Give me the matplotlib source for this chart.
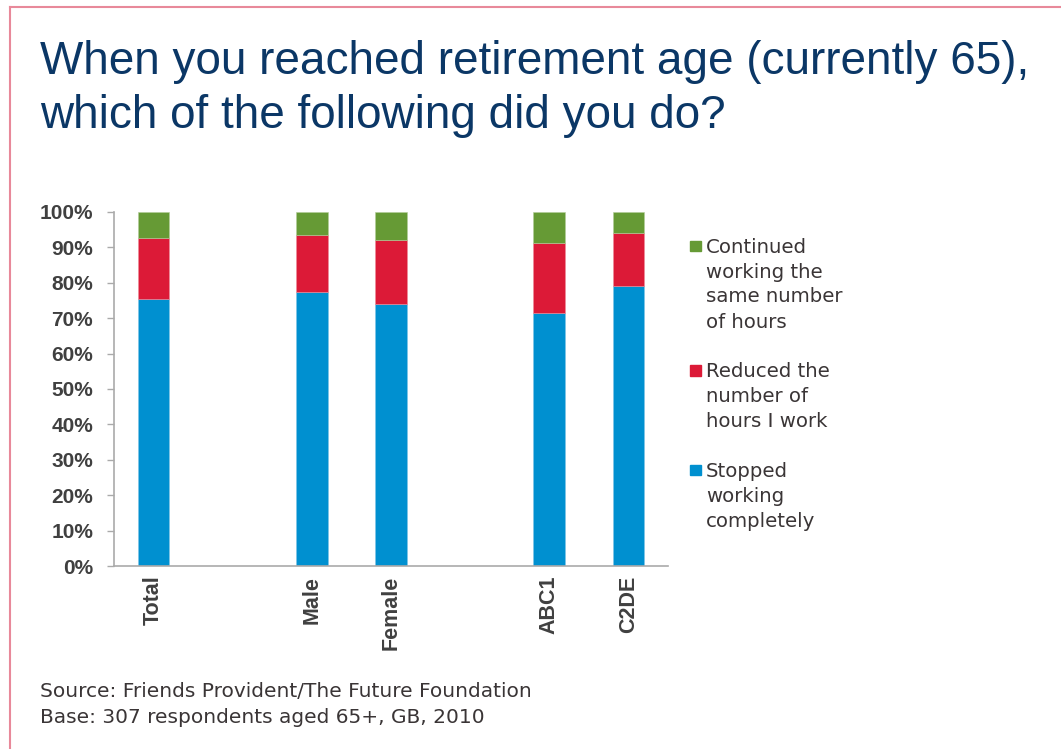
import numpy as np
import matplotlib.pyplot as plt
from matplotlib.patches import Rectangle
from matplotlib.lines import Line2D

# survey results, % of respondents in each group
groups = ['Total', 'Male', 'Female', 'ABC1', 'C2DE']
group_pos = [0, 2, 3, 5, 6]
stopped = [75.5, 77.5, 74, 71.5, 79]
reduced = [17.2, 16, 18, 19.8, 15]
continued = [7.3, 6.5, 8, 8.7, 6]

series_labels = [['Continued', 'working the', 'same number', 'of hours'],
                 ['Reduced the', 'number of', 'hours I work'],
                 ['Stopped', 'working', 'completely']]
colors = {'stopped': '#0090d0', 'reduced': '#dc1a37', 'continued': '#669a35'}

plt.rcParams['font.family'] = ['Liberation Sans', 'DejaVu Sans']

W, H = 1061, 749
fig = plt.figure(figsize=(W / 100, H / 100), dpi=100)
ax = fig.add_axes([0.1074, 0.2443, 0.5222, 0.4727])

w = 0.4
bottom2 = np.array(stopped) + np.array(reduced)
ax.bar(group_pos, stopped, width=w, color=colors['stopped'], edgecolor='#7fc4e6', linewidth=0.4)
ax.bar(group_pos, reduced, width=w, bottom=stopped, color=colors['reduced'], edgecolor='#ee8c9b', linewidth=0.4)
ax.bar(group_pos, continued, width=w, bottom=bottom2, color=colors['continued'], edgecolor='#b2cc9a', linewidth=0.4)

ax.set_xlim(-0.5, 6.5)
ax.set_ylim(0, 100)
ax.set_yticks(range(0, 101, 10))
ax.set_yticklabels([f'{v}%' for v in range(0, 101, 10)])
ax.set_xticks(group_pos)
ax.set_xticklabels(groups, rotation=90)

for s in ['top', 'right']:
    ax.spines[s].set_visible(False)
for s in ['left', 'bottom']:
    ax.spines[s].set_color('#aaaaaa')
    ax.spines[s].set_linewidth(1.2)
ax.tick_params(axis='y', length=5, width=1, color='#aaaaaa', pad=10,
               labelsize=15, labelcolor='#404040')
ax.tick_params(axis='x', length=0, pad=7, labelsize=15.5, labelcolor='#404040')
for lab in ax.get_xticklabels() + ax.get_yticklabels():
    lab.set_fontweight('bold')

# title
title_color = '#0b3766'
fig.text(40 / W, 1 - 74 / H, 'When you reached retirement age (currently 65),',
         fontsize=33, color=title_color, va='baseline')
fig.text(40 / W, 1 - 128 / H, 'which of the following did you do?',
         fontsize=33, color=title_color, va='baseline')

# legend, square aligned with the first line of each label
text_color = '#3a3536'
legend_colors = [colors['continued'], colors['reduced'], colors['stopped']]
legend_base = [252.5, 377, 477]
for lines, c, base in zip(series_labels, legend_colors, legend_base):
    fig.patches.append(Rectangle((690 / W, 1 - (base - 1.5) / H), 11 / W, 10.5 / H,
                                 transform=fig.transFigure, color=c))
    for i, line in enumerate(lines):
        fig.text(706 / W, 1 - (base + 25 * i) / H, line, fontsize=14.2, color=text_color,
                 family='DejaVu Sans', va='baseline')

# source note
fig.text(40 / W, 1 - 697 / H, 'Source: Friends Provident/The Future Foundation',
         fontsize=14.5, color=text_color, family='DejaVu Sans', va='baseline')
fig.text(40 / W, 1 - 723 / H, 'Base: 307 respondents aged 65+, GB, 2010',
         fontsize=14.5, color=text_color, family='DejaVu Sans', va='baseline')

# frame lines along top and left edge
border = '#e8899a'
fig.lines.append(Line2D([10 / W, 1], [1 - 7 / H, 1 - 7 / H], transform=fig.transFigure,
                        color=border, linewidth=1.5))
fig.lines.append(Line2D([10 / W, 10 / W], [0, 1 - 7 / H], transform=fig.transFigure,
                        color=border, linewidth=1.5))

fig.savefig('out.png', dpi=100)
